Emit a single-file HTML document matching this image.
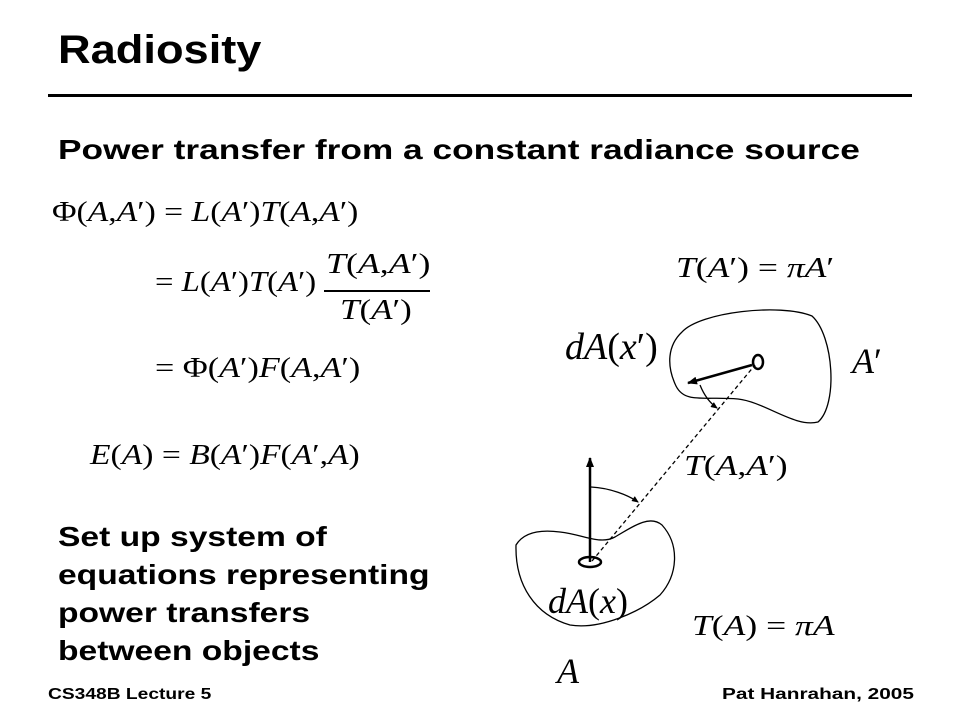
<!DOCTYPE html>
<html><head><meta charset="utf-8"><style>
body{margin:0;width:960px;height:720px;background:#fff;position:relative;overflow:hidden;font-family:"Liberation Sans",sans-serif}
.t{position:absolute;white-space:nowrap;transform-origin:0 0}
.b{font-weight:bold;color:#000}
.m{font-family:"Liberation Serif",serif;font-size:28px;color:#000;transform:scaleX(1.2)}
i{font-style:italic}
</style></head><body>
<div class="t b" style="left:58px;top:28px;font-size:40px;transform:scaleX(1.13)">Radiosity</div>
<div style="position:absolute;left:48px;top:94px;width:864px;height:3px;background:#000"></div>
<div class="t b" style="left:58px;top:134px;font-size:28px;transform:scaleX(1.26)">Power transfer from a constant radiance source</div>
<div class="t m" style="left:52px;top:197px">Φ(<i>A</i>,<i>A</i>′) = <i>L</i>(<i>A</i>′)<i>T</i>(<i>A</i>,<i>A</i>′)</div>
<div class="t m" style="left:155px;top:267px;transform:scaleX(1.17)">= <i>L</i>(<i>A</i>′)<i>T</i>(<i>A</i>′)</div>
<div class="t m" style="left:326px;top:249px;transform:scaleX(1.28)"><i>T</i>(<i>A</i>,<i>A</i>′)</div>
<div style="position:absolute;left:324px;top:290px;width:106px;height:2px;background:#000"></div>
<div class="t m" style="left:340px;top:295px;transform:scaleX(1.25)"><i>T</i>(<i>A</i>′)</div>
<div class="t m" style="left:155px;top:353px;transform:scaleX(1.22)">= Φ(<i>A</i>′)<i>F</i>(<i>A</i>,<i>A</i>′)</div>
<div class="t m" style="left:90px;top:440px;transform:scaleX(1.2)"><i>E</i>(<i>A</i>) = <i>B</i>(<i>A</i>′)<i>F</i>(<i>A</i>′,<i>A</i>)</div>
<div class="t b" style="left:58px;top:518px;font-size:28px;line-height:38px;transform:scaleX(1.2)">Set up system of<br>equations representing<br>power transfers<br>between objects</div>
<div class="t m" style="left:676px;top:253px;transform:scaleX(1.27)"><i>T</i>(<i>A</i>′) = <i>πA</i>′</div>
<div class="t m" style="left:565px;top:325px;font-size:38px;transform:none"><i>dA</i>(<i>x</i>′)</div>
<div class="t m" style="left:852px;top:340px;font-size:36px;transform:none"><i>A</i>′</div>
<div class="t m" style="left:684px;top:451px;transform:scaleX(1.27)"><i>T</i>(<i>A</i>,<i>A</i>′)</div>
<div class="t m" style="left:548px;top:580px;font-size:36px;transform:none"><i>dA</i>(<i>x</i>)</div>
<div class="t m" style="left:692px;top:611px;transform:scaleX(1.27)"><i>T</i>(<i>A</i>) = <i>πA</i></div>
<div class="t m" style="left:557px;top:650px;font-size:36px;transform:none"><i>A</i></div>
<div class="t b" style="left:48px;top:686px;font-size:16px;transform:scaleX(1.2)">CS348B Lecture 5</div>
<div class="t b" style="left:722px;top:686px;font-size:16px;transform:scaleX(1.3)">Pat Hanrahan, 2005</div>
<svg width="960" height="720" style="position:absolute;left:0;top:0">
<defs><marker id="ah" markerWidth="10" markerHeight="8" refX="9" refY="4" orient="auto" markerUnits="userSpaceOnUse"><path d="M0,0 L10,4 L0,8 Z"/></marker>
<marker id="sh" markerWidth="7" markerHeight="6" refX="6" refY="3" orient="auto" markerUnits="userSpaceOnUse"><path d="M0,0 L7,3 L0,6 Z"/></marker></defs>
<g fill="none" stroke="#000" stroke-width="1.3">
<path d="M682,332 C700,312 780,303 812,316 C834,336 838,405 818,422 C795,428 765,402 738,399 C705,396 685,404 676,386 C666,365 668,345 682,332 Z"/>
<path d="M516,545 C525,530 545,530 560,532 C585,535 600,545 615,537 C635,525 650,515 662,525 C680,545 678,575 660,595 C640,612 600,630 570,625 C535,615 515,585 516,545 Z"/>
<ellipse cx="758" cy="362" rx="5" ry="7" stroke-width="2.5"/>
<ellipse cx="590" cy="562" rx="11" ry="5" stroke-width="2.5"/>
<line x1="592" y1="561" x2="755" y2="365" stroke-dasharray="4,3"/>
<line x1="590" y1="562" x2="590" y2="458" stroke-width="2.5" marker-end="url(#ah)"/>
<line x1="752" y1="365" x2="688" y2="383" stroke-width="2.5" marker-end="url(#ah)"/>
<path d="M591,487 C610,488 628,495 638,502" marker-end="url(#sh)"/>
<path d="M700,385 C704,395 710,403 717,408" marker-end="url(#sh)"/>
</g></svg>
</body></html>
